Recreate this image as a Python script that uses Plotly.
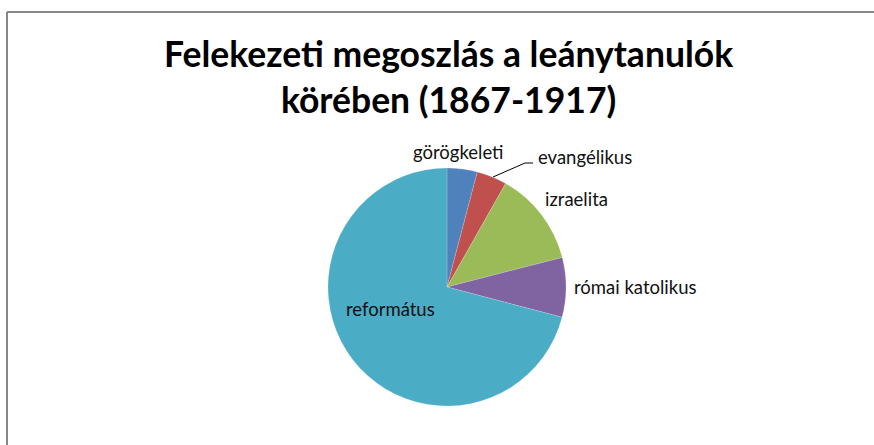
import plotly.graph_objects as go

W, H = 874, 445

categories = ["görögkeleti", "evangélikus", "izraelita", "római katolikus", "református"]
values = [4.1, 4.1, 12.8, 8.1, 70.9]
colors = ["#4F81BD", "#C0504D", "#9BBB59", "#8064A2", "#4BACC6"]
title_text = "Felekezeti megoszlás a leánytanulók<br>körében (1867-1917)"

# pie geometry (pixels)
cx, cy, r = 447, 287, 119

def px(x):
    return x / W

def py(y):
    return 1 - y / H

fig = go.Figure(go.Pie(
    labels=categories,
    values=values,
    sort=False,
    direction="clockwise",
    rotation=0,
    marker=dict(colors=colors, line=dict(color="rgba(255,255,255,0.35)", width=0.5)),
    textinfo="none",
    hoverinfo="label+percent",
    showlegend=False,
    domain=dict(x=[px(cx - r), px(cx + r)], y=[py(cy + r), py(cy - r)]),
))

label_pos = {
    "görögkeleti": (458, 152),
    "evangélikus": (585, 157),
    "izraelita": (576, 199),
    "római katolikus": (635, 287),
    "református": (390, 309),
}

annotations = []
for name in categories:
    x, y = label_pos[name]
    annotations.append(dict(
        x=px(x), y=py(y), xref="paper", yref="paper",
        text=name, showarrow=False, xanchor="center", yanchor="middle",
        font=dict(family="Lato", size=18.5, color="#111111"),
    ))

annotations.append(dict(
    x=px(448), y=py(77), xref="paper", yref="paper",
    text=title_text, showarrow=False, xanchor="center", yanchor="middle",
    font=dict(family="Lato", size=35.5, color="#000000", weight="bold"),
))

shapes = [
    dict(type="line", xref="paper", yref="paper", x0=px(7), x1=1, y0=py(12), y1=py(12),
         line=dict(color="#868686", width=2)),
    dict(type="line", xref="paper", yref="paper", x0=px(7), x1=px(7), y0=py(12), y1=0,
         line=dict(color="#868686", width=2)),
    # leader line for evangélikus
    dict(type="path", xref="paper", yref="paper",
         path=f"M {px(493)},{py(177)} L {px(525)},{py(163)} L {px(533)},{py(163)}",
         line=dict(color="#000000", width=1)),
]

fig.update_layout(
    width=W, height=H,
    margin=dict(l=0, r=0, t=0, b=0),
    paper_bgcolor="white",
    plot_bgcolor="white",
    annotations=annotations,
    shapes=shapes,
)

fig.write_html("out.html")
